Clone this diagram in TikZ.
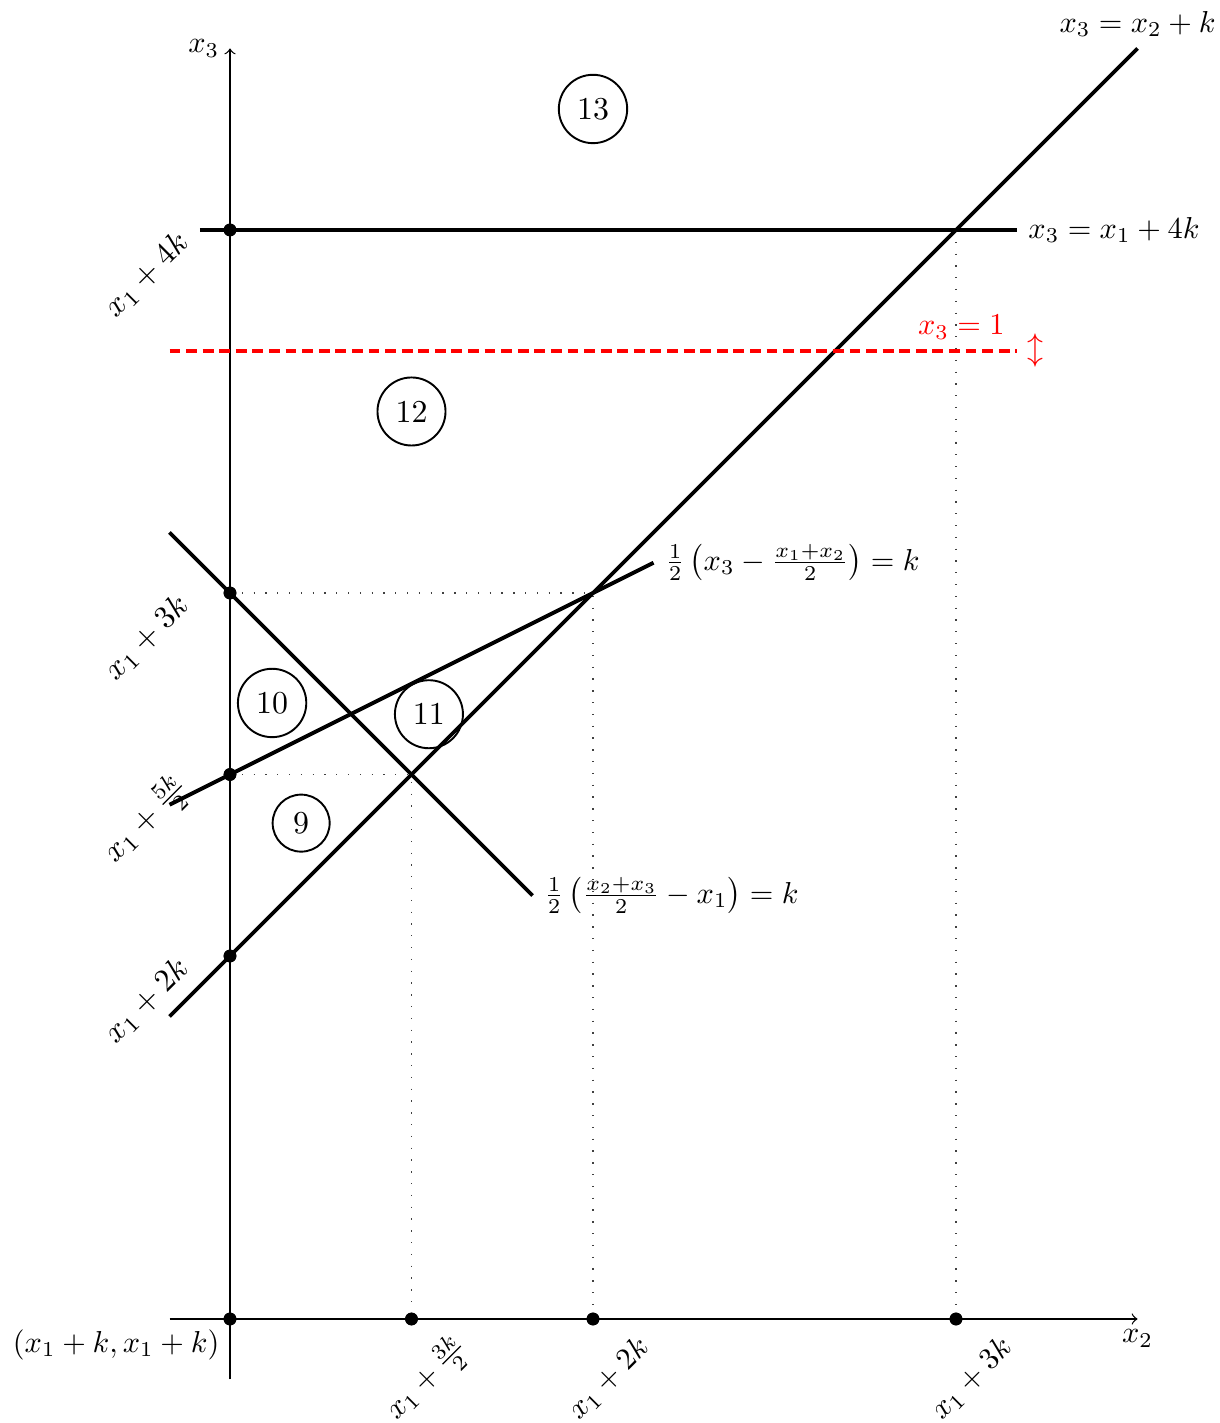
\documentclass[tikz,border=0pt]{standalone}
\usepackage{amsmath}
\begin{document}
\begin{tikzpicture}[x=4cm,y=4cm,
  axisline/.style={thin,->},
  eqline/.style={very thick},
  guide/.style={thin, black!75, dash pattern=on 0.4pt off 3.3pt},
  redline/.style={red, very thick, dash pattern=on 3.4pt off 1.8pt},
  dot/.style={circle, fill, inner sep=0pt, minimum size=4pt},
  region/.style={circle, draw, line width=0.6pt},
  lab/.style={scale=0.95},
  ticklab/.style={rotate=45, anchor=east},
  xticklab/.style={ticklab, scale=0.96},
]
\useasboundingbox (-0.63361,-0.28650) rectangle (2.72452,3.63361);
% axis end points
\coordinate (xa) at (-1/6,0);
\coordinate (xb) at (2.5,0);
\coordinate (ya) at (0,-1/6);
\coordinate (yb) at (0,3.5);
% line end points
\coordinate (La) at (-1/6,5/6);
\coordinate (Lb) at (2.5,3.5);
\coordinate (Ha) at (-1/12,3);
\coordinate (Hb) at (13/6,3);
\coordinate (Ra) at (-1/6,8/3);
\coordinate (Rb) at (13/6,8/3);
\coordinate (Ma) at (-1/6,17/12);
\coordinate (Mb) at (7/6,25/12);
\coordinate (Na) at (-1/6,13/6);
\coordinate (Nb) at (5/6,7/6);
% guide corners
\coordinate (G1) at (1,2);
\coordinate (G2) at (0.5,1.5);
\coordinate (G3) at (2,3);

% axes
\draw[axisline] (xa) -- (xb) node[below, lab] (lx2) {$x_2$};
\draw[axisline] (ya) -- (yb) node[left, lab] (lx3) {$x_3$};

% dots
\node[dot] (d0) at (0,0) {};
\node[dot] (dx1) at (0.5,0) {};
\node[dot] (dx2) at (1,0) {};
\node[dot] (dx3) at (2,0) {};
\node[dot] (dy1) at (0,1) {};
\node[dot] (dy2) at (0,1.5) {};
\node[dot] (dy3) at (0,2) {};
\node[dot] (dy4) at (0,3) {};

% guides
\draw[guide] (dy3.center) -- (G1) -- (dx2.center);
\draw[guide] (dy2.center) -- (G2) -- (dx1.center);
\draw[guide] (G3) -- (dx3.center);

% lines
\draw[eqline] (La) -- (Lb) node[above, lab] (l1) {$x_3 = x_2 + k$};
\draw[eqline] (Ha) -- (Hb) node[right, lab] (l2) {$x_3 = x_1 + 4k$};
\draw[redline] (Ra) -- (Rb) node[above left, red, lab] (l3) {$x_3 = 1$};
\node[right, red] (l3b) at (Rb) {$\updownarrow$};
\draw[eqline] (Ma) -- (Mb) node[right, lab] (l4) {$\frac{1}{2}\left(x_3 - \frac{x_1+x_2}{2}\right) = k$};
\draw[eqline] (Na) -- (Nb) node[right, lab] (l5) {$\frac{1}{2}\left(\frac{x_2+x_3}{2} - x_1\right) = k$};

% redraw dots on top
\foreach \p in {d0,dx1,dx2,dx3,dy1,dy2,dy3,dy4} \fill (\p) circle (2pt);

% tick labels
\node[below left, lab] (lo) at (d0.center) {$(x_1+k, x_1+k)$};
\node[xticklab] (tx1) at (0.663,-0.045) {$x_1+\frac{3k}{2}$};
\node[xticklab] (tx2) at (1.163,-0.045) {$x_1+2k$};
\node[xticklab] (tx3) at (2.163,-0.045) {$x_1+3k$};
\node[ticklab] (ty1) at (-0.105,1) {$x_1+2k$};
\node[ticklab] (ty2) at (-0.105,1.5) {$x_1+\frac{5k}{2}$};
\node[ticklab] (ty3) at (-0.105,2) {$x_1+3k$};
\node[ticklab] (ty4) at (-0.105,3) {$x_1+4k$};

% regions
\node[region] (r9) at (0.196,1.366) {9};
\node[region] (r10) at (0.116,1.697) {10};
\node[region] (r11) at (0.548,1.666) {11};
\node[region] (r12) at (0.5,2.5) {12};
\node[region] (r13) at (1,10/3) {13};
\end{tikzpicture}
\end{document}
